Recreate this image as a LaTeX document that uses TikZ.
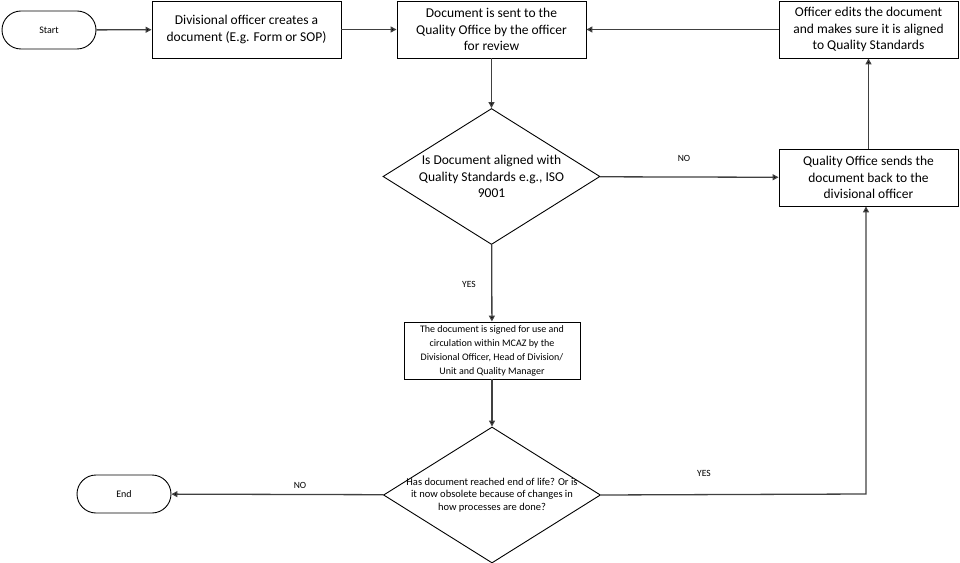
\documentclass[tikz,border=0pt]{standalone}
\usepackage{fontspec}
\setmainfont{Carlito}
\usetikzlibrary{shapes.geometric,arrows.meta}
\begin{document}
\begin{tikzpicture}[x=1bp,y=-1bp,
  box/.style={draw=black,line width=0.9bp,minimum width=#1,minimum height=57bp,inner sep=2bp,align=center,font=\fontsize{13.5bp}{16.5bp}\selectfont},
  smallbox/.style={draw=black,line width=0.9bp,minimum width=176bp,minimum height=57bp,inner sep=2bp,align=center,font=\fontsize{10bp}{14bp}\selectfont},
  term/.style={draw=black,line width=0.9bp,rounded corners=19bp,minimum width=94bp,minimum height=38bp,inner sep=0pt,font=\fontsize{10bp}{12bp}\selectfont},
  dia/.style={draw=black,line width=0.9bp,diamond,minimum width=217bp,minimum height=136bp,inner sep=0pt,aspect=1.6},
  conn/.style={draw=black!75,line width=1.3bp,-{Triangle[length=6bp,width=6bp,fill=black]}},
  lbl/.style={font=\fontsize{9.5bp}{11bp}\selectfont}]
\useasboundingbox (0,0) rectangle (960,563);
\node[term] (start) at (49,30) {Start};
\node[box=189bp] (b1) at (246.5,29.5) {Divisional officer creates a\\document (E.g. Form or SOP)};
\node[box=189bp] (b2) at (491.5,29.5) {Document is sent to the\\Quality Office by the officer\\for review};
\node[box=179bp] (b3) at (868.5,29.5) {Officer edits the document\\and makes sure it is aligned\\to Quality Standards};
\node[dia] (d1) at (491.5,176.5) {};
\node[align=center,font=\fontsize{13.5bp}{16.5bp}\selectfont] (d1t) at (491.5,176.5) {Is Document aligned with\\Quality Standards e.g., ISO\\9001};
\node[box=179bp] (qo) at (868.5,177.5) {Quality Office sends the\\document back to the\\divisional officer};
\node[smallbox] (sg) at (492,350.5) {The document is signed for use and\\circulation within MCAZ by the\\Divisional Officer, Head of Division/\\Unit and Quality Manager};
\node[dia] (d2) at (492,495) {};
\node[align=center,font=\fontsize{10.5bp}{12.5bp}\selectfont] (d2t) at (492,495) {Has document reached end of life? Or is\\it now obsolete because of changes in\\how processes are done?};
\node[term] (end) at (124,494) {End};
\coordinate (c1) at (866,494);
\draw[conn] (start) -- (b1);
\draw[conn] (b1) -- (b2);
\draw[conn] (b3) -- (b2);
\draw[conn] (b2) -- (d1);
\draw[conn] (d1) -- (qo);
\draw[conn] (qo) -- (b3);
\draw[conn] (d1) -- (sg);
\draw[conn] (sg) -- (d2);
\draw[conn] (d2) -- (end);
\draw[conn] (d2.east) -- (c1) -- (c1 |- qo.south);
\node[lbl] (l1) at (684,158) {NO};
\node[lbl] (l2) at (469,284) {YES};
\node[lbl] (l3) at (300,485) {NO};
\node[lbl] (l4) at (704,473) {YES};
\end{tikzpicture}
\end{document}
